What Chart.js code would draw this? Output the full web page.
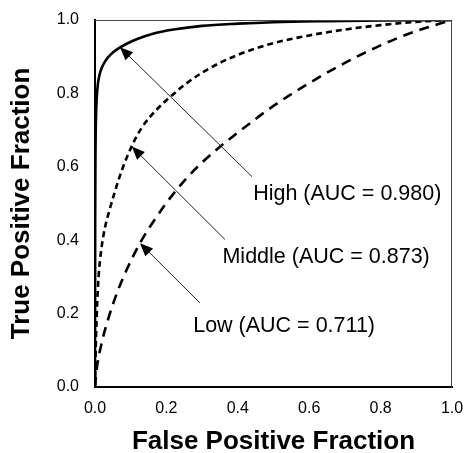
<!DOCTYPE html>
<html>
<head>
<meta charset="utf-8">
<script src="https://cdn.jsdelivr.net/npm/chart.js@4/dist/chart.umd.min.js"></script>
<style>
  body { margin: 0; background: #fff; }
  #wrap { width: 467px; height: 453px; }
</style>
</head>
<body>
<div id="wrap"><canvas id="rocChart" width="467" height="453"></canvas></div>
<script>
// ROC curves (false positive fraction -> true positive fraction)
const highX = [0, 0.0005, 0.0015, 0.003, 0.005, 0.008, 0.013, 0.02, 0.03, 0.045, 0.065, 0.09, 0.12, 0.16, 0.22, 0.3, 0.4, 0.5, 0.65, 0.8, 1.0];
const highY = [0, 0.45, 0.65, 0.74, 0.79, 0.825, 0.852, 0.872, 0.89, 0.907, 0.922, 0.936, 0.949, 0.962, 0.974, 0.984, 0.99, 0.994, 0.997, 0.999, 1.0];

const midX = [0, 0.002, 0.005, 0.01, 0.017, 0.027, 0.04, 0.055, 0.075, 0.1, 0.13, 0.17, 0.21, 0.26, 0.32, 0.4, 0.5, 0.6, 0.7, 0.8, 0.9, 1.0];
const midY = [0, 0.1, 0.2, 0.3, 0.37, 0.43, 0.48, 0.53, 0.59, 0.65, 0.705, 0.753, 0.79, 0.83, 0.868, 0.905, 0.937, 0.958, 0.974, 0.986, 0.995, 1.0];

const lowX = [0, 0.005, 0.02, 0.04, 0.065, 0.09, 0.126, 0.17, 0.22, 0.27, 0.33, 0.4, 0.5, 0.6, 0.7, 0.8, 0.9, 1.0];
const lowY = [0, 0.05, 0.125, 0.195, 0.265, 0.322, 0.392, 0.46, 0.527, 0.583, 0.638, 0.693, 0.766, 0.828, 0.883, 0.931, 0.97, 1.0];

const tickValues = [0, 0.2, 0.4, 0.6, 0.8, 1.0];

const seriesNames = ['High', 'Middle', 'Low'];
const aucValues = ['0.980', '0.873', '0.711'];

// arrow tip / tail and label anchor, in data units
const notes = [
  { tip: [0.070, 0.926], tail: [0.440, 0.573], label: [0.443, 0.527] },
  { tip: [0.103, 0.655], tail: [0.364, 0.402], label: [0.357, 0.354] },
  { tip: [0.126, 0.392], tail: [0.294, 0.229], label: [0.275, 0.165] }
];

const FONT = 'Arial, "Liberation Sans", Helvetica, sans-serif';

function toPoints(xs, ys) {
  return xs.map((x, i) => ({ x: x, y: ys[i] }));
}

const annotate = {
  id: 'annotate',
  afterDatasetsDraw(chart) {
    const ctx = chart.ctx;
    const sx = chart.scales.x, sy = chart.scales.y;
    const area = chart.chartArea;

    // thin top / right frame
    ctx.save();
    ctx.strokeStyle = '#444';
    ctx.lineWidth = 1;
    ctx.beginPath();
    ctx.moveTo(area.left, area.top + 0.5);
    ctx.lineTo(area.right - 0.5, area.top + 0.5);
    ctx.lineTo(area.right - 0.5, area.bottom);
    ctx.stroke();
    ctx.restore();

    notes.forEach((n, i) => {
      const tx = sx.getPixelForValue(n.tip[0]), ty = sy.getPixelForValue(n.tip[1]);
      const bx = sx.getPixelForValue(n.tail[0]), by = sy.getPixelForValue(n.tail[1]);
      const ang = Math.atan2(ty - by, tx - bx);
      const headLen = 13, headW = 5.5;

      ctx.save();
      ctx.strokeStyle = '#222';
      ctx.lineWidth = 1;
      ctx.beginPath();
      ctx.moveTo(bx, by);
      ctx.lineTo(tx - Math.cos(ang) * headLen * 0.8, ty - Math.sin(ang) * headLen * 0.8);
      ctx.stroke();

      ctx.fillStyle = '#000';
      ctx.beginPath();
      ctx.moveTo(tx, ty);
      ctx.lineTo(tx - Math.cos(ang) * headLen - Math.sin(ang) * headW,
                 ty - Math.sin(ang) * headLen + Math.cos(ang) * headW);
      ctx.lineTo(tx - Math.cos(ang) * headLen + Math.sin(ang) * headW,
                 ty - Math.sin(ang) * headLen - Math.cos(ang) * headW);
      ctx.closePath();
      ctx.fill();

      ctx.fillStyle = '#000';
      ctx.font = '21.5px ' + FONT;
      ctx.textAlign = 'left';
      ctx.textBaseline = 'middle';
      ctx.fillText(seriesNames[i] + ' (AUC = ' + aucValues[i] + ')',
                   sx.getPixelForValue(n.label[0]), sy.getPixelForValue(n.label[1]));
      ctx.restore();
    });
  }
};

const lineStyles = [
  { dash: [], width: 2.6 },
  { dash: [6, 4], width: 2.6 },
  { dash: [10, 7], width: 2.6 }
];

const data = {
  datasets: [toPoints(highX, highY), toPoints(midX, midY), toPoints(lowX, lowY)].map((pts, i) => ({
    label: seriesNames[i],
    data: pts,
    borderColor: '#000',
    borderWidth: lineStyles[i].width,
    borderDash: lineStyles[i].dash,
    pointRadius: 0,
    fill: false,
    cubicInterpolationMode: 'monotone'
  }))
};

// drop the label overflow padding so the plot box sits where the reference has it
function noPad(scale) {
  scale.paddingLeft = 0;
  scale.paddingRight = 0;
  scale.paddingTop = 0;
  scale.paddingBottom = 0;
}

const axisCommon = {
  type: 'linear',
  min: 0,
  max: 1,
  afterBuildTicks: (scale) => { scale.ticks = tickValues.map(v => ({ value: v })); },
  grid: { drawOnChartArea: false, drawTicks: false },
  border: { color: '#000', width: 2 }
};

const config = {
  type: 'line',
  data: data,
  plugins: [annotate],
  options: {
    responsive: false,
    animation: false,
    layout: { padding: { top: 20, right: 15, left: 0, bottom: 0 } },
    plugins: { legend: { display: false }, tooltip: { enabled: false } },
    scales: {
      x: Object.assign({}, axisCommon, {
        position: 'bottom',
        ticks: { callback: v => v.toFixed(1), color: '#000', padding: 12, maxRotation: 0,
                 font: { family: FONT, size: 16 } },
        title: { display: true, text: 'False Positive Fraction', color: '#000',
                 font: { family: FONT, size: 26, weight: 'bold', lineHeight: 1 },
                 padding: { top: 0, bottom: -2 } },
        afterFit: (scale) => { scale.height = 66; noPad(scale); }
      }),
      y: Object.assign({}, axisCommon, {
        position: 'left',
        ticks: { callback: v => v.toFixed(1), color: '#000', padding: 16,
                 font: { family: FONT, size: 16 } },
        title: { display: true, text: 'True Positive Fraction', color: '#000',
                 font: { family: FONT, size: 26, weight: 'bold', lineHeight: 1 },
                 padding: { top: 9, bottom: 0 } },
        afterFit: (scale) => { scale.width = 95; noPad(scale); }
      })
    }
  }
};

const rocChart = new Chart(document.getElementById('rocChart'), config);
</script>
</body>
</html>
